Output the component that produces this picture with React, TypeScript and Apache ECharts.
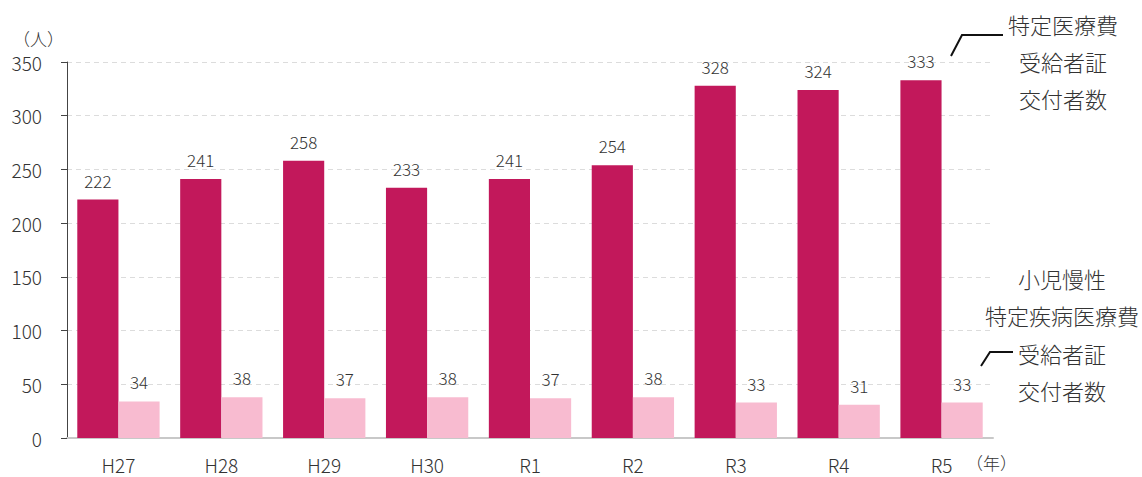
import React, { useEffect, useRef } from "react";
import * as echarts from "echarts";

const categories = ["H27", "H28", "H29", "H30", "R1", "R2", "R3", "R4", "R5"];
const specifiedValues = [222, 241, 258, 233, 241, 254, 328, 324, 333];
const childValues = [34, 38, 37, 38, 37, 38, 33, 31, 33];
const yTicks = [0, 50, 100, 150, 200, 250, 300, 350];

const FONT = "'Noto Sans CJK JP', 'Noto Sans', sans-serif";
const W = 300;

export default function App() {
  const ref = useRef<HTMLDivElement>(null);
  useEffect(() => {
    if (!ref.current) return;
    const chart = echarts.init(ref.current, null, { renderer: "svg" });
    chart.setOption({
      animation: false,
      textStyle: { fontFamily: FONT, fontWeight: W },
      grid: { left: 67, right: 149, top: 62, bottom: 39 },
      xAxis: {
        type: "category",
        data: categories,
        axisLine: { lineStyle: { color: "#c8c8c8", width: 2 } },
        axisTick: { show: false },
        axisLabel: { color: "#333", fontSize: 19, margin: 17, fontFamily: FONT, fontWeight: W },
      },
      yAxis: {
        type: "value",
        min: yTicks[0],
        max: yTicks[yTicks.length - 1],
        interval: 50,
        axisLine: { show: true, lineStyle: { color: "#444", width: 1 } },
        axisTick: { show: true, length: 6, lineStyle: { color: "#444" } },
        axisLabel: { color: "#333", fontSize: 19, margin: 25, fontFamily: FONT, fontWeight: W },
        splitLine: { lineStyle: { color: "#dcdcdc", type: [5, 4] } },
      },
      series: [
        {
          type: "bar",
          data: specifiedValues,
          barGap: "0%",
          barCategoryGap: "20%",
          itemStyle: { color: "#c2185b" },
          label: { show: true, position: "top", distance: 11, color: "#333", fontSize: 17, fontFamily: FONT, fontWeight: W },
        },
        {
          type: "bar",
          data: childValues,
          itemStyle: { color: "#f8bbd0" },
          label: { show: true, position: "top", distance: 11, color: "#333", fontSize: 17, fontFamily: FONT, fontWeight: W },
        },
      ],
      graphic: [
        { type: "text", left: 13, top: 30, style: { text: "（人）", fontSize: 17, fill: "#333", fontFamily: FONT, fontWeight: W } },
        { type: "text", left: 966, top: 454, style: { text: "（年）", fontSize: 17, fill: "#333", fontFamily: FONT, fontWeight: W } },
        {
          type: "text", x: 1063, y: 5,
          style: { text: "特定医療費\n受給者証\n交付者数", fontSize: 22, lineHeight: 37, fill: "#333", align: "center", verticalAlign: "top", fontFamily: FONT, fontWeight: W },
        },
        {
          type: "polyline",
          shape: { points: [[951, 56], [962, 35], [1003, 35]] },
          style: { stroke: "#111", lineWidth: 2, fill: null },
        },
        {
          type: "text", x: 1062, y: 259,
          style: { text: "小児慢性\n特定疾病医療費\n受給者証\n交付者数", fontSize: 22, lineHeight: 37.5, fill: "#333", align: "center", verticalAlign: "top", fontFamily: FONT, fontWeight: W },
        },
        {
          type: "polyline",
          shape: { points: [[981, 366], [990, 352], [1013, 352]] },
          style: { stroke: "#111", lineWidth: 2, fill: null },
        },
      ],
    });
    return () => chart.dispose();
  }, []);
  return <div ref={ref} style={{ width: 1142, height: 477, position: "absolute", left: 0, top: 0 }} />;
}
